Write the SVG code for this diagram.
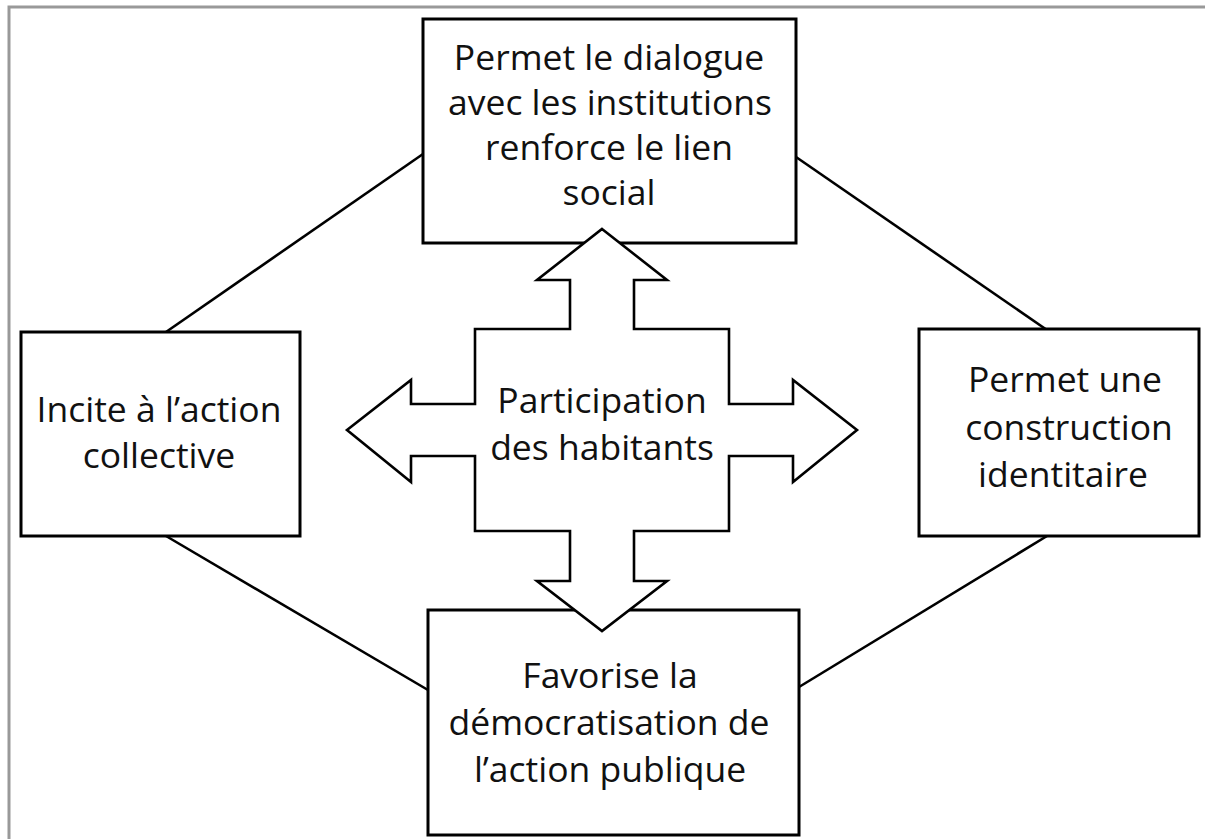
<svg xmlns="http://www.w3.org/2000/svg" width="1205" height="839" viewBox="0 0 1205 839">
<style>
.box{fill:#fff;stroke:#000;stroke-width:3}
.lbl{font-family:"Open Sans","Noto Sans",sans-serif;font-size:35.5px;fill:#111;text-anchor:middle}
.conn{stroke:#000;stroke-width:2.6;fill:none}
.frame{stroke:#999;stroke-width:3;fill:none}
</style>
<rect width="1205" height="839" fill="#fff"/>
<path class="frame" d="M9 839 V7 H1205"/>
<g id="connectors">
<line class="conn" x1="166" y1="332" x2="423" y2="154"/>
<line class="conn" x1="796" y1="157" x2="1047" y2="330"/>
<line class="conn" x1="166" y1="536" x2="428" y2="690"/>
<line class="conn" x1="1047" y1="536" x2="799" y2="687"/>
</g>
<g id="node-top">
<rect class="box" x="423" y="19" width="373" height="224"/>
<text class="lbl"><tspan x="609" y="70">Permet le dialogue</tspan><tspan x="610" y="115">avec les institutions</tspan><tspan x="609" y="160">renforce le lien</tspan><tspan x="609" y="205">social</tspan></text>
</g>
<g id="node-left">
<rect class="box" x="21" y="332" width="279" height="204"/>
<text class="lbl"><tspan x="159" y="422">Incite à l’action</tspan><tspan x="159" y="468">collective</tspan></text>
</g>
<g id="node-right">
<rect class="box" x="919" y="329" width="280" height="207"/>
<text class="lbl"><tspan x="1065" y="392">Permet une</tspan><tspan x="1069" y="440">construction</tspan><tspan x="1063" y="487">identitaire</tspan></text>
</g>
<g id="node-bottom">
<rect class="box" x="428" y="610" width="371" height="225"/>
<text class="lbl"><tspan x="610" y="688">Favorise la</tspan><tspan x="609" y="735">démocratisation de</tspan><tspan x="610" y="782">l’action publique</tspan></text>
</g>
<g id="node-center">
<path fill="#fff" stroke="#000" stroke-width="2.6" stroke-linejoin="miter" d="M602 229 L667 280 H634 V329 H729 V404 H793 V380 L857 430 L793 482 V456 H729 V531 H634 V581 H667 L602 631 L537 581 H570 V531 H475 V456 H411 V482 L347 430 L411 380 V404 H475 V329 H570 V280 H537 Z"/>
<text class="lbl"><tspan x="602" y="413">Participation</tspan><tspan x="602" y="460">des habitants</tspan></text>
</g>
</svg>
